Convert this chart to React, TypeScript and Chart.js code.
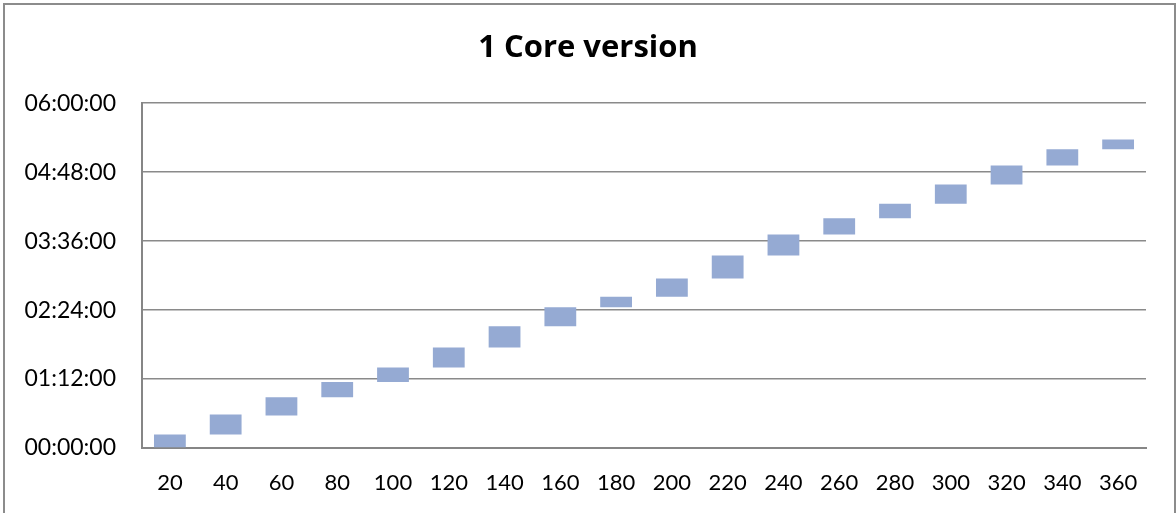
import React, { useEffect, useRef } from "react";
import { Chart, registerables } from "chart.js";

Chart.register(...registerables);

const categories = ["20", "40", "60", "80", "100", "120", "140", "160", "180", "200", "220", "240", "260", "280", "300", "320", "340", "360"];
// start and end of each range, in minutes
const startMinutes = [0, 14, 34, 53, 69, 84, 105, 127, 147, 158, 177, 201, 223, 240, 255, 275, 295, 312];
const endMinutes = [14, 35, 53, 69, 84, 105, 127, 147, 158, 177, 201, 223, 240, 255, 275, 295, 312, 322];
const yMax = 360;
const yStep = 72;
const titleText = "1 Core version";

const FONT = "Lato, 'Open Sans', sans-serif";
const TITLE_FONT = "'Open Sans', Lato, sans-serif";

function fmt(v: number): string {
  const h = Math.floor(v / 60);
  const m = Math.round(v % 60);
  return String(h).padStart(2, "0") + ":" + String(m).padStart(2, "0") + ":00";
}

export default function App() {
  const ref = useRef<HTMLCanvasElement | null>(null);
  useEffect(() => {
    if (!ref.current) return;
    const chart = new Chart(ref.current, {
      type: "bar",
      data: {
        labels: categories,
        datasets: [
          {
            label: "Range",
            data: startMinutes.map((s, i) => [s, endMinutes[i]]) as any,
            backgroundColor: "#95aad3",
            borderWidth: 0,
            categoryPercentage: 1,
            barPercentage: 0.57,
          },
        ],
      },
      options: {
        animation: false,
        responsive: false,
        maintainAspectRatio: false,
        layout: { padding: { left: 0, right: 0, top: 0, bottom: 0 } },
        plugins: {
          legend: { display: false },
          tooltip: { enabled: false },
          title: {
            display: true,
            text: titleText,
            color: "#000",
            font: { family: TITLE_FONT, size: 31, weight: "bold" },
            padding: { top: 30, bottom: 36 },
          },
        },
        scales: {
          x: {
            grid: { display: false, drawTicks: false },
            border: { display: true, color: "#868686", width: 2 },
            ticks: {
              color: "#000",
              font: { family: FONT, size: 22 },
              padding: 22,
              maxRotation: 0,
              autoSkip: false,
            },
            afterFit: (s: any) => {
              s.height = 65;
            },
          },
          y: {
            min: 0,
            max: yMax,
            grid: { color: "#8a8a8a", lineWidth: 1.5, drawTicks: false },
            border: { display: true, color: "#868686", width: 2 },
            ticks: {
              stepSize: yStep,
              color: "#000",
              font: { family: FONT, size: 23 },
              padding: 26,
              callback: (v: any) => fmt(Number(v)),
            },
            afterFit: (s: any) => {
              s.width = 142;
            },
          },
          yRightSpace: {
            position: "right",
            min: 0,
            max: yMax,
            grid: { display: false, drawTicks: false },
            border: { display: false },
            ticks: { display: false },
            afterFit: (s: any) => {
              s.width = 30;
            },
          },
        },
      },
    } as any);
    return () => chart.destroy();
  }, []);

  return (
    <div style={{ position: "fixed", left: 0, top: 0, width: 1176, height: 513, overflow: "hidden", background: "#fff" }}>
      <div
        style={{
          position: "absolute",
          left: 3,
          top: 3,
          width: 1169,
          height: 540,
          border: "2px solid #8c8c8c",
        }}
      />
      <canvas ref={ref} width={1176} height={513} style={{ position: "absolute", left: 0, top: 0 }} />
    </div>
  );
}
